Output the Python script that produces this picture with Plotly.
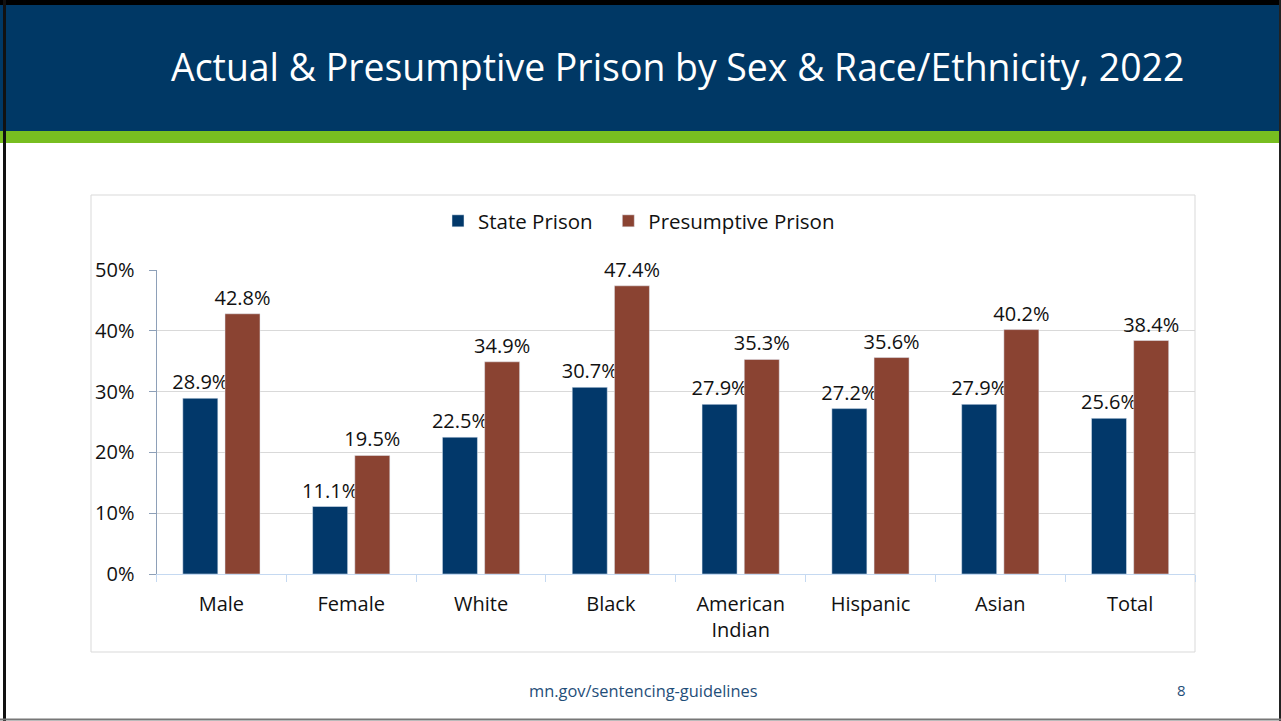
import plotly.graph_objects as go

categories = ["Male", "Female", "White", "Black", "American<br>Indian", "Hispanic", "Asian", "Total"]
state_prison = [28.9, 11.1, 22.5, 30.7, 27.9, 27.2, 27.9, 25.6]
presumptive_prison = [42.8, 19.5, 34.9, 47.4, 35.3, 35.6, 40.2, 38.4]
y_ticks = [0, 10, 20, 30, 40, 50]
y_tick_labels = ["0%", "10%", "20%", "30%", "40%", "50%"]

W, H = 1281, 721
def px(x):
    return x / W
def py(y):
    return 1 - y / H

BLUE = "#02386A"
BROWN = "#8A4332"
FONT = "Open Sans"

fig = go.Figure()
fig.add_trace(go.Bar(
    name="State Prison\u00a0\u00a0", x=categories, y=state_prison, marker_color=BLUE,
    text=[f"{v:.1f}%" for v in state_prison], textposition="outside", constraintext="none",
    textfont=dict(size=20, color="#111111", family=FONT), cliponaxis=False,
    hoverinfo="skip",
))
fig.add_trace(go.Bar(
    name="Presumptive Prison", x=categories, y=presumptive_prison, marker_color=BROWN,
    text=[f"{v:.1f}%" for v in presumptive_prison], textposition="outside", constraintext="none",
    textfont=dict(size=20, color="#111111", family=FONT), cliponaxis=False,
    hoverinfo="skip",
))

shapes = [
    dict(type="rect", xref="paper", yref="paper", x0=0, x1=1, y0=py(131), y1=py(4),
         fillcolor="#003865", line_width=0, layer="below"),
    dict(type="rect", xref="paper", yref="paper", x0=0, x1=1, y0=py(143), y1=py(131),
         fillcolor="#78BE20", line_width=0, layer="below"),
    dict(type="rect", xref="paper", yref="paper", x0=px(91), x1=px(1195), y0=py(652), y1=py(195),
         fillcolor="rgba(0,0,0,0)", line=dict(color="#D9D9D9", width=1), layer="below"),
    dict(type="line", xref="paper", yref="paper", x0=0, x1=1, y0=py(2.5), y1=py(2.5),
         line=dict(color="#000000", width=5)),
    dict(type="line", xref="paper", yref="paper", x0=px(4.5), x1=px(4.5), y0=0, y1=1,
         line=dict(color="#111111", width=3)),
    dict(type="line", xref="paper", yref="paper", x0=px(1280), x1=px(1280), y0=0, y1=1,
         line=dict(color="#222222", width=2)),
    dict(type="line", xref="paper", yref="paper", x0=0, x1=1, y0=py(719.5), y1=py(719.5),
         line=dict(color="#777777", width=2)),
]

annotations = [
    dict(text="Actual & Presumptive Prison by Sex & Race/Ethnicity, 2022", xref="paper", yref="paper",
         x=px(677), y=py(67), xanchor="center", yanchor="middle", showarrow=False,
         font=dict(family=FONT, size=37.4, color="#FFFFFF")),
    dict(text="mn.gov/sentencing-guidelines", xref="paper", yref="paper",
         x=px(643), y=py(690), xanchor="center", yanchor="middle", showarrow=False,
         font=dict(family=FONT, size=16.4, color="#1F4E79")),
    dict(text="8", xref="paper", yref="paper",
         x=px(1181), y=py(690), xanchor="center", yanchor="middle", showarrow=False,
         font=dict(family=FONT, size=15, color="#1F4E79")),
]

fig.update_layout(
    width=W, height=H,
    margin=dict(l=0, r=0, t=0, b=0, autoexpand=False),
    paper_bgcolor="#FFFFFF", plot_bgcolor="#FFFFFF",
    barmode="group", bargap=0.35, bargroupgap=0.17,
    font=dict(family=FONT, size=20, color="#111111"),
    showlegend=True,
    legend=dict(orientation="h", x=px(438), xanchor="left", y=py(221), yanchor="middle",
                font=dict(family=FONT, size=20.5, color="#111111"), bgcolor="rgba(0,0,0,0)",
                itemclick=False, itemdoubleclick=False),
    shapes=shapes, annotations=annotations,
    xaxis=dict(domain=[px(156.5), px(1195)], showline=True, linecolor="#C5D9F1", linewidth=1,
               ticks="outside", tickson="boundaries", ticklen=7, tickcolor="#C5D9F1",
               tickfont=dict(family=FONT, size=20, color="#111111"), showgrid=False,
               ticklabelstandoff=12),
    yaxis=dict(domain=[py(574), py(270)], range=[0, 50], tickvals=y_ticks, ticktext=y_tick_labels,
               showline=True, linecolor="#8EA0B8", linewidth=1, ticks="outside", ticklen=7,
               tickcolor="#8EA0B8", showgrid=True, gridcolor="#D9D9D9", gridwidth=1,
               zeroline=False, tickfont=dict(family=FONT, size=20, color="#111111"), ticklabelstandoff=10),
)

fig.write_html("out.html", config={"displayModeBar": False},
               post_script="document.body.style.margin='0';document.body.style.overflow='hidden';")
